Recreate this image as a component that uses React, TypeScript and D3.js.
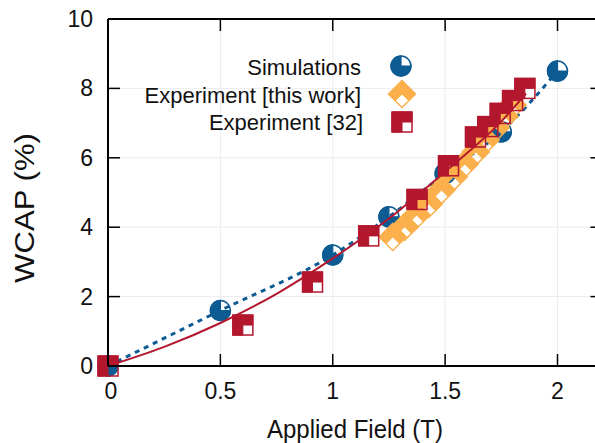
import React from "react";
import * as d3 from "d3";

const xTicks = [0, 0.5, 1, 1.5, 2];
const yTicks = [0, 2, 4, 6, 8, 10];
const xTickLabels = ["0", "0.5", "1", "1.5", "2"];
const yTickLabels = ["0", "2", "4", "6", "8", "10"];

const simX = [0, 0.5, 1, 1.25, 1.5, 1.75, 2];
const simY = [0, 1.6, 3.2, 4.3, 5.55, 6.75, 8.5];

const expX = [1.267, 1.32, 1.373, 1.427, 1.484, 1.538, 1.587, 1.636, 1.68, 1.724, 1.764, 1.8];
const expY = [3.72, 4.01, 4.35, 4.67, 5.07, 5.45, 5.82, 6.17, 6.51, 6.86, 7.2, 7.52];

const refX = [0, 0.6, 0.91, 1.16, 1.375, 1.515, 1.635, 1.69, 1.745, 1.8, 1.855];
const refY = [0, 1.18, 2.42, 3.75, 4.8, 5.77, 6.6, 6.9, 7.28, 7.65, 8.0];

const fitX = [0, 0.25, 0.5, 0.75, 1, 1.25, 1.5, 1.75, 1.86];
const fitY = [0, 0.55, 1.24, 2.08, 3.1, 4.25, 5.6, 7.05, 7.85];

const legendLabels = ["Simulations", "Experiment [this work]", "Experiment [32]"];

const BLUE = "#0d5b93";
const ORANGE = "#fbb04c";
const RED = "#b3172e";
const FONT = "'Liberation Sans', Arial, Helvetica, sans-serif";

const W = 595, H = 443;
const L = 108, T = 19, B = 366;

function CircleMarker({ x, y }: { x: number; y: number }) {
  const r = 10;
  return (
    <g transform={`translate(${x},${y})`}>
      <circle r={r} fill="none" stroke={BLUE} strokeWidth={1.5} />
      <path d={`M0,0 L${r},0 A${r},${r} 0 1 1 0,${-r} Z`} fill={BLUE} stroke={BLUE} strokeWidth={1.2} />
    </g>
  );
}

function SquareMarker({ x, y }: { x: number; y: number }) {
  const h = 10;
  return (
    <g transform={`translate(${x},${y})`}>
      <rect x={-h} y={-h} width={2 * h} height={2 * h} fill="none" stroke={RED} strokeWidth={1.5} />
      <path d={`M${-h},${-h} L${h},${-h} L${h},0 L0,0 L0,${h} L${-h},${h} Z`} fill={RED} stroke={RED} strokeWidth={1} />
    </g>
  );
}

function DiamondMarker({ x, y }: { x: number; y: number }) {
  const d = 13.5;
  return (
    <g transform={`translate(${x},${y})`}>
      <path d={`M0,${-d} L${d},0 L0,${d} L${-d},0 Z`} fill="none" stroke={ORANGE} strokeWidth={1.5} />
      <path
        d={`M0,${-d} L${d},0 L${d / 2},${d / 2} L0,0 L${-d / 2},${d / 2} L${-d},0 Z`}
        fill={ORANGE}
        stroke={ORANGE}
        strokeWidth={1}
      />
    </g>
  );
}

export default function App() {
  const x = d3.scaleLinear().domain([0, 2.2]).range([L, L + 2.2 * 224.75]);
  const y = d3.scaleLinear().domain([0, 10]).range([B, T]);
  const R = x(2.2);

  const simLine = d3
    .line<number>()
    .x((_, i) => x(simX[i]))
    .y((d) => y(d))
    .curve(d3.curveMonotoneX);
  const fitLine = d3
    .line<number>()
    .x((_, i) => x(fitX[i]))
    .y((d) => y(d))
    .curve(d3.curveMonotoneX);

  const tickLen = 12;

  return (
    <svg width={W} height={H} style={{ position: "absolute", left: 0, top: 0, background: "#fff" }} fontFamily={FONT}>
      <rect width={W} height={H} fill="#fff" />
      {/* grid */}
      {xTicks.slice(1).map((t) => (
        <line key={"gx" + t} x1={x(t)} x2={x(t)} y1={T} y2={B} stroke="#ececec" strokeWidth={1} />
      ))}
      {yTicks.slice(1, -1).map((t) => (
        <line key={"gy" + t} x1={L} x2={R} y1={y(t)} y2={y(t)} stroke="#ececec" strokeWidth={1} />
      ))}

      {/* simulation dotted line */}
      <path d={simLine(simY) || ""} fill="none" stroke={BLUE} strokeWidth={3} strokeDasharray="5,5" />
      {simX.map((v, i) => (
        <CircleMarker key={"c" + i} x={x(v)} y={y(simY[i])} />
      ))}
      {expX.map((v, i) => (
        <DiamondMarker key={"d" + i} x={x(v)} y={y(expY[i])} />
      ))}
      <path d={fitLine(fitY) || ""} fill="none" stroke={RED} strokeWidth={2} />
      {refX.map((v, i) => (
        <SquareMarker key={"s" + i} x={x(v)} y={y(refY[i])} />
      ))}

      {/* frame */}
      <line x1={L} x2={R} y1={T} y2={T} stroke="#000" strokeWidth={2} />
      <line x1={L} x2={R} y1={B} y2={B} stroke="#000" strokeWidth={2} />
      <line x1={L} x2={L} y1={T} y2={B} stroke="#000" strokeWidth={2} />
      <line x1={R} x2={R} y1={T} y2={B} stroke="#000" strokeWidth={2} />
      {xTicks.slice(1).map((t) => (
        <g key={"tx" + t}>
          <line x1={x(t)} x2={x(t)} y1={B} y2={B - tickLen} stroke="#000" strokeWidth={1.5} />
          <line x1={x(t)} x2={x(t)} y1={T} y2={T + tickLen} stroke="#000" strokeWidth={1.5} />
        </g>
      ))}
      {yTicks.slice(1, -1).map((t) => (
        <g key={"ty" + t}>
          <line x1={L} x2={L + tickLen} y1={y(t)} y2={y(t)} stroke="#000" strokeWidth={1.5} />
          <line x1={R} x2={R - tickLen} y1={y(t)} y2={y(t)} stroke="#000" strokeWidth={1.5} />
        </g>
      ))}

      {/* tick labels */}
      {xTicks.map((t, i) => (
        <text key={"lx" + t} x={x(t) + (i === 0 ? 3 : 0)} y={399} textAnchor="middle" fontSize={23} fill="#111">
          {xTickLabels[i]}
        </text>
      ))}
      {yTicks.map((t, i) => (
        <text key={"ly" + t} x={93} y={y(t) + 8} textAnchor="end" fontSize={23} fill="#111">
          {yTickLabels[i]}
        </text>
      ))}

      {/* axis labels */}
      <text x={355} y={438} textAnchor="middle" fontSize={25} fill="#111" textLength={176} lengthAdjust="spacingAndGlyphs">
        Applied Field (T)
      </text>
      <text
        transform="translate(34,208) rotate(-90)"
        textAnchor="middle"
        fontSize={27}
        fill="#111"
        textLength={150}
        lengthAdjust="spacingAndGlyphs"
      >
        WCAP (%)
      </text>

      {/* legend */}
      <text x={361} y={75} textAnchor="end" fontSize={22} fill="#111">{legendLabels[0]}</text>
      <text x={361} y={103} textAnchor="end" fontSize={22} fill="#111">{legendLabels[1]}</text>
      <text x={363} y={130} textAnchor="end" fontSize={22} fill="#111">{legendLabels[2]}</text>
      <CircleMarker x={401} y={66} />
      <DiamondMarker x={402} y={94} />
      <SquareMarker x={402} y={122} />
    </svg>
  );
}
